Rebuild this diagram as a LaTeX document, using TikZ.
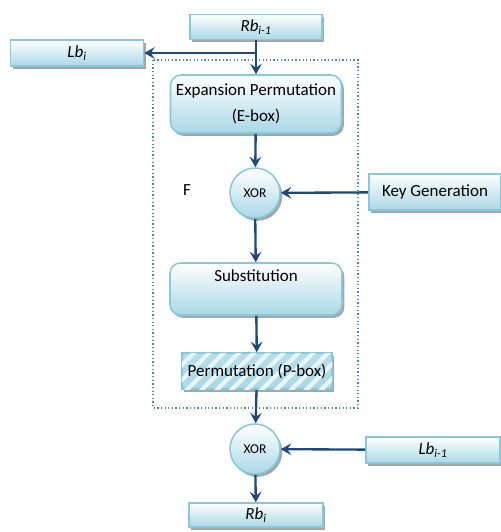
\documentclass[tikz,border=0pt]{standalone}
\usepackage{fontspec}
\setmainfont{Carlito}
\usetikzlibrary{shapes,arrows.meta,shadows,patterns.meta}
\definecolor{boxblue}{RGB}{170,216,230}
\definecolor{rimblue}{RGB}{135,200,218}
\definecolor{linkblue}{RGB}{31,73,125}
\definecolor{dotblue}{RGB}{79,129,189}
\tikzstyle{block} = [rectangle, draw=rimblue, line width=1.3pt, top color=white,
    bottom color=boxblue, text centered, font=\fontsize{14.5}{17}\selectfont,
    drop shadow={shadow xshift=2pt, shadow yshift=-2.4pt, fill=gray!70, opacity=1}]
\tikzstyle{roundblock} = [block, rounded corners=9pt, align=center]
\tikzstyle{xorcircle} = [circle, draw=rimblue, line width=1.3pt, top color=white,
    bottom color=boxblue, minimum size=1.5cm, inner sep=0pt,
    font=\fontsize{11.5}{13}\selectfont,
    drop shadow={shadow xshift=2pt, shadow yshift=-2.4pt, fill=gray!70, opacity=1}]
\tikzstyle{line} = [draw=linkblue, line width=2pt, -{Stealth[length=9pt,width=10pt,inset=3.5pt]}]

\begin{document}
\begin{tikzpicture}[x=0.03cm, y=-0.03cm]
    \useasboundingbox (0,0) rectangle (500,532);
    % Frame of F
    \draw [dotblue, dotted, line width=1.1pt] (153,60) rectangle (358,408);
    % Place nodes
    \node [block, minimum width=3.96cm, minimum height=0.75cm] (rbprev) at (256,27) {\itshape Rb\textsubscript{i-1}};
    \node [block, minimum width=3.99cm, minimum height=0.78cm] (lbnext) at (77,53) {\itshape Lb\textsubscript{i}};
    \node [roundblock, minimum width=5.13cm, minimum height=1.74cm] (ebox) at (256,104) {Expansion Permutation\\[5pt](E-box)};
    \node [xorcircle] (xorf) at (255,193) {XOR};
    \node [font=\fontsize{14.5}{17}\selectfont] (flabel) at (187,190) {F};
    \node [block, minimum width=3.96cm, minimum height=1.08cm] (keygen) at (435,192) {Key Generation};
    \node [block, rounded corners=9pt, minimum width=5.16cm, minimum height=1.56cm,
        text depth=0.78cm] (subst) at (256,289) {Substitution};
    \node [block, top color=boxblue!85, bottom color=boxblue, minimum width=4.5cm, minimum height=1.08cm,
        postaction={pattern={Lines[angle=45,distance=9pt,line width=3.6pt]}, pattern color=white!75!boxblue}] (pbox) at (257,371) {};
    \node (pboxtext) at (pbox) {\fontsize{14.5}{17}\selectfont Permutation (P-box)};
    \node [xorcircle] (xorout) at (255,449) {XOR};
    \node [block, minimum width=4.02cm, minimum height=0.78cm] (lbprev) at (433,450) {\itshape Lb\textsubscript{i-1}};
    \node [block, minimum width=4.02cm, minimum height=0.72cm] (rbnext) at (256,515) {\itshape Rb\textsubscript{i}};
    \coordinate (split) at (rbprev.south |- lbnext.east);

    % Draw edges
    \path [line] (rbprev) -- (ebox);
    \path [line] (split) -- (lbnext);
    \path [line] (ebox) -- (xorf);
    \path [line] (keygen) -- (xorf);
    \path [line] (xorf) -- (subst);
    \path [line] (subst) -- (pbox);
    \path [line] (pbox) -- (xorout);
    \path [line] (lbprev) -- (xorout);
    \path [line] (xorout) -- (rbnext);

\end{tikzpicture}
\end{document}
